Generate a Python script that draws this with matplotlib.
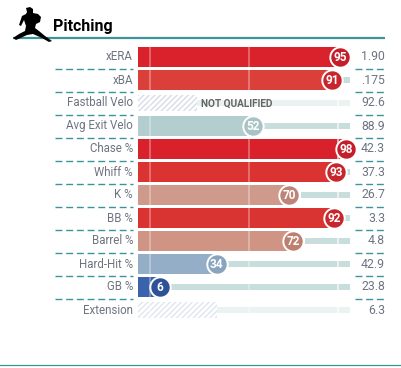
import matplotlib
matplotlib.use('Agg')
import matplotlib.pyplot as plt
from matplotlib.patches import Polygon

# pitching percentile bars
labels = ['xERA', 'xBA', 'Fastball Velo', 'Avg Exit Velo', 'Chase %', 'Whiff %',
          'K %', 'BB %', 'Barrel %', 'Hard-Hit %', 'GB %', 'Extension']
percentiles = [95, 91, 24, 52, 98, 93, 70, 92, 72, 34, 6, 34]
qualified = [True, True, False, True, True, True, True, True, True, True, True, False]
stats = ['1.90', '.175', '92.6', '88.9', '42.3', '37.3', '26.7', '3.3', '4.8', '42.9', '23.8', '6.3']
bar_colors = ['#d9222b', '#db3f3a', '#d5dde9', '#b4cdcf', '#d8212a', '#da3332',
              '#cf9a8c', '#da3432', '#cf9484', '#95aec8', '#3b63ad', '#dfe6ee']
dot_colors = ['#c41e2a', '#c8262d', '#d5dde9', '#a9c3c5', '#c41e2a', '#c8262d',
              '#bd8578', '#c8262d', '#bc7f70', '#8aa4be', '#2d5298', '#dfe6ee']

plt.rcParams['font.family'] = ['Roboto', 'DejaVu Sans']
plt.rcParams['hatch.linewidth'] = 1.0

TEAL = '#3a9499'
W, H = 401, 368
fig = plt.figure(figsize=(W / 100, H / 100), dpi=100)

# overlay in pixels for the furniture
bg = fig.add_axes([0, 0, 1, 1])
bg.set_xlim(0, W)
bg.set_ylim(H, 0)
bg.axis('off')

# main axis, x is the percentile and y is the row number
left, right = 138, 350
top, bottom = 45.5, 321.5
ax = fig.add_axes([left / W, 1 - bottom / H, (right - left) / W, (bottom - top) / H])
ax.set_xlim(-5, 100)
ax.set_ylim(len(labels) - 0.5, -0.5)
ax.axis('off')

for i in range(len(labels)):
    p = percentiles[i]
    if qualified[i]:
        ax.barh(i, 105, left=-5, height=0.22, color='#c8dedd', lw=0, zorder=1)
        ax.barh(i, p + 5 + 5.5, left=-5, height=1, color='white', lw=0, zorder=1.5)
        ax.barh(i, p + 5, left=-5, height=0.87, color=bar_colors[i], lw=0, zorder=2)
        ax.scatter(p, i, s=215, color=dot_colors[i], edgecolors='white', linewidths=1.4,
                   zorder=4, clip_on=False)
        ax.text(p, i + 0.03, str(p), color='white', ha='center', va='center',
                fontsize=8.5, fontweight='bold', zorder=5)
    else:
        ax.barh(i, 105, left=-5, height=0.26, color='#eaf3f2', lw=0, zorder=1)
        ax.barh(i, p + 5, left=-5, height=0.7, color='white', lw=0, zorder=1.5)
        ax.barh(i, p + 5, left=-5, height=0.7, facecolor='white', edgecolor=bar_colors[i],
                hatch='//////', lw=0, zorder=2)

# light reference lines over the rows
for t in [1, 50, 94]:
    ax.vlines(t, -0.5, len(labels) - 0.5, color='white', lw=1.2, alpha=0.35 if t < 94 else 0.7, zorder=3)

ax.text(percentiles[2] + 2, 2.03, 'NOT QUALIFIED', color='#666666', fontsize=7.2,
        fontweight='bold', va='center', ha='left', zorder=5)

# row text and dashed separators
for i, name in enumerate(labels):
    y = 57 + 23 * i
    bg.text(133, y, name, ha='right', va='center', fontsize=8.3, color='#6d7480')
    bg.text(385, y, stats[i], ha='right', va='center', fontsize=8.8, color='#6d7480')
    if i < len(labels) - 1:
        bg.plot([55, 133], [y + 11.5, y + 11.5], color=TEAL, lw=1, dashes=(5, 2.7))
        bg.plot([355, 385], [y + 11.5, y + 11.5], color=TEAL, lw=1, dashes=(5, 2.7))

# header
bg.plot([13, 385], [38, 38], color=TEAL, lw=1.6, solid_capstyle='butt')
bg.plot([0, W], [364.5, 364.5], color=TEAL, lw=0.9)
bg.text(53, 26.5, 'Pitching', fontsize=11.5, fontweight='bold', color='black', va='center', ha='left')

# pitcher silhouette
pitcher = [(13, 38), (19, 34), (25, 31), (26, 26), (24, 20), (21, 26), (19, 25), (22, 16),
           (26, 14), (27, 12), (26, 8), (30, 7), (33, 9), (33, 13), (38, 14), (41, 17), (40, 22),
           (36, 24), (35, 28), (39, 31), (45, 36), (52, 41), (49, 42), (42, 38), (33, 34),
           (27, 35), (16, 40)]
bg.add_patch(Polygon(pitcher, closed=True, color='black', lw=0, zorder=6))

fig.savefig('out.png', dpi=100)
